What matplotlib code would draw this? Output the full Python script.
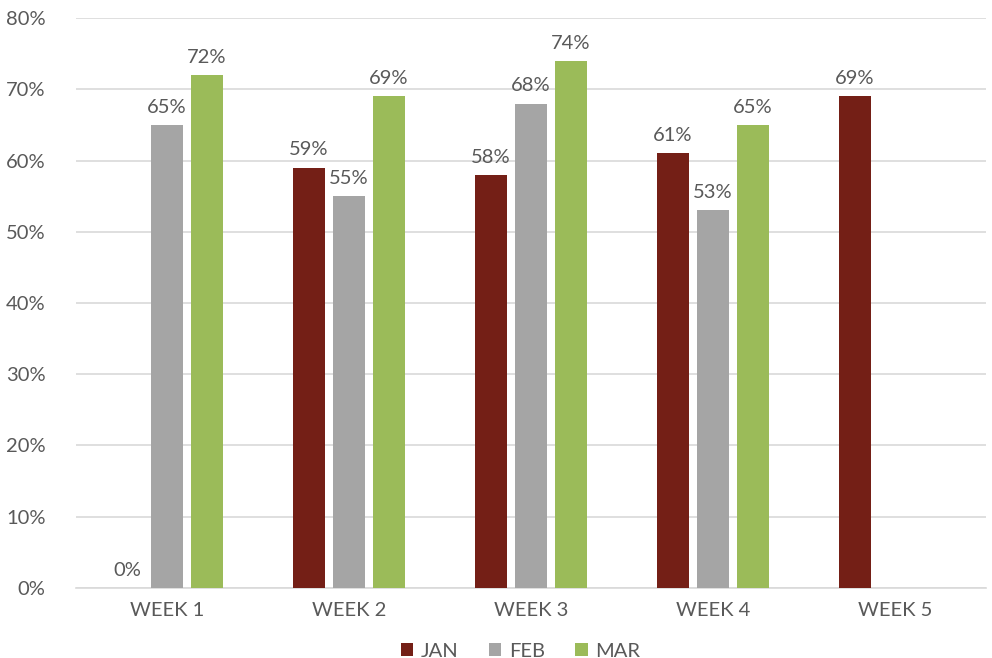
import numpy as np
import matplotlib.pyplot as plt
from matplotlib.ticker import PercentFormatter

# data
weeks = ['WEEK 1', 'WEEK 2', 'WEEK 3', 'WEEK 4', 'WEEK 5']
jan = [0, 59, 58, 61, 69]
feb = [65, 55, 68, 53, np.nan]
mar = [72, 69, 74, 65, np.nan]

series = [jan, feb, mar]
names = ['JAN', 'FEB', 'MAR']
colors = ['#741F16', '#A5A5A5', '#9BBB59']

plt.rcParams['font.family'] = ['Lato', 'DejaVu Sans']
text_col = '#595959'
fs = 14.5

fig = plt.figure(figsize=(9.92, 6.58), dpi=100)
ax = fig.add_axes([0.0766, 0.1064, 0.9174, 0.8662])

x = np.arange(len(weeks))
width = 0.176
offset = 0.22

for i in range(len(series)):
    vals = np.array(series[i], dtype=float)
    bars = ax.bar(x + (i - 1) * offset, vals, width, color=colors[i], label=names[i], zorder=3)
    for b, v in zip(bars, vals):
        if np.isnan(v):
            continue
        ax.text(b.get_x() + b.get_width() / 2, v + 1.3, '%d%%' % v, ha='center', va='bottom',
                fontsize=fs, color=text_col)

ax.set_xlim(-0.5, len(weeks) - 0.5)
ax.set_ylim(0, 80)
ax.set_yticks(np.arange(0, 81, 10))
ax.yaxis.set_major_formatter(PercentFormatter(decimals=0))
ax.set_xticks(x)
ax.set_xticklabels(weeks)
ax.tick_params(axis='both', length=0, labelsize=fs, colors=text_col)
ax.tick_params(axis='y', pad=22)
ax.tick_params(axis='x', pad=10)
ax.grid(axis='y', color='#D9D9D9', linewidth=1.2, zorder=0)
for s in ['top', 'right', 'left']:
    ax.spines[s].set_visible(False)
ax.spines['bottom'].set_color('#D9D9D9')
ax.spines['bottom'].set_linewidth(1.2)

leg = fig.legend(loc='lower center', bbox_to_anchor=(0.525, -0.03), ncol=3, frameon=False,
                 fontsize=fs, handlelength=0.6, handleheight=0.6, columnspacing=1.5,
                 handletextpad=0.4)
for t in leg.get_texts():
    t.set_color(text_col)

plt.savefig('out.png', dpi=100)
